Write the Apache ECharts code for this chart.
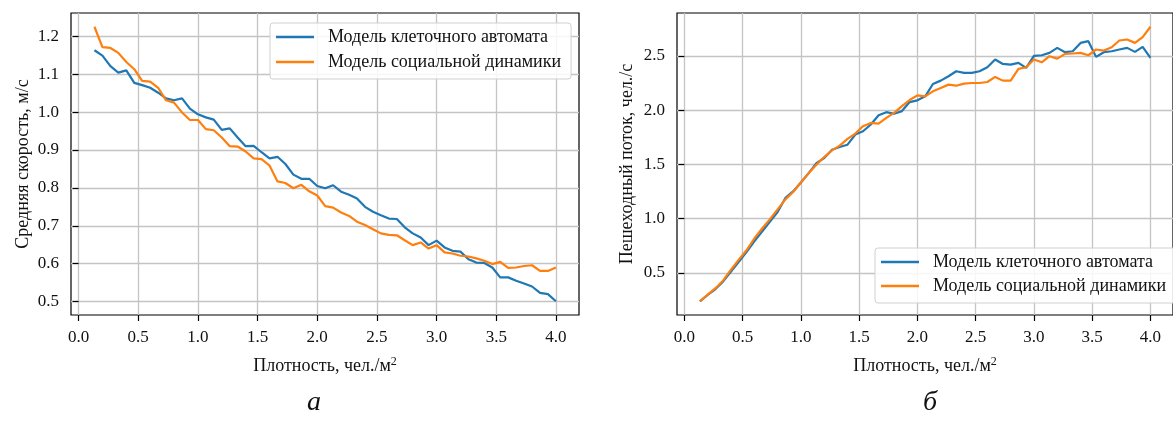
<!DOCTYPE html>
<html>
<head>
<meta charset="utf-8">
<script src="https://cdn.jsdelivr.net/npm/echarts@6/dist/echarts.min.js"></script>
<style>
html,body{margin:0;padding:0;background:#fff;}
#chart{width:1173px;height:423px;}
</style>
</head>
<body>
<div id="chart"></div>
<script>
// Density values (x axis), чел./м²
const density = [0.133,0.200,0.267,0.333,0.400,0.467,0.533,0.600,0.667,0.733,
  0.800,0.867,0.933,1.000,1.067,1.133,1.200,1.267,1.333,1.400,
  1.467,1.533,1.600,1.667,1.733,1.800,1.867,1.933,2.000,2.067,
  2.133,2.200,2.267,2.333,2.400,2.467,2.533,2.600,2.667,2.733,
  2.800,2.867,2.933,3.000,3.067,3.133,3.200,3.267,3.333,3.400,
  3.467,3.533,3.600,3.667,3.733,3.800,3.867,3.933,4.000];

// (a) mean speed, m/s
const speedCA = [1.163,1.149,1.121,1.104,1.110,1.077,1.071,1.064,1.051,1.036,
  1.031,1.036,1.009,0.994,0.986,0.980,0.953,0.957,0.933,0.910,
  0.911,0.894,0.878,0.882,0.863,0.835,0.824,0.824,0.805,0.799,
  0.807,0.790,0.782,0.772,0.750,0.737,0.728,0.719,0.718,0.696,
  0.680,0.669,0.649,0.661,0.643,0.634,0.632,0.612,0.603,0.602,
  0.590,0.564,0.564,0.555,0.548,0.540,0.523,0.520,0.501];
const speedSD = [1.225,1.171,1.169,1.156,1.132,1.113,1.082,1.080,1.064,1.031,
  1.025,0.999,0.979,0.979,0.955,0.952,0.933,0.910,0.909,0.896,
  0.878,0.876,0.859,0.817,0.813,0.799,0.808,0.791,0.780,0.752,
  0.748,0.735,0.726,0.711,0.702,0.691,0.680,0.676,0.675,0.662,
  0.649,0.656,0.640,0.649,0.630,0.627,0.621,0.619,0.614,0.608,
  0.599,0.605,0.589,0.590,0.594,0.596,0.581,0.581,0.590];

// (б) pedestrian flow, чел./с
const flowCA = [0.237,0.295,0.350,0.420,0.510,0.600,0.690,0.790,0.880,0.970,
  1.060,1.190,1.250,1.332,1.419,1.511,1.558,1.635,1.660,1.681,
  1.774,1.805,1.867,1.953,1.981,1.966,1.991,2.074,2.090,2.127,
  2.241,2.272,2.312,2.358,2.343,2.343,2.358,2.395,2.466,2.426,
  2.420,2.435,2.389,2.500,2.506,2.528,2.574,2.534,2.543,2.620,
  2.636,2.491,2.534,2.543,2.559,2.574,2.537,2.583,2.481];
const flowSD = [0.237,0.299,0.358,0.429,0.528,0.621,0.707,0.816,0.908,0.992,
  1.085,1.177,1.245,1.332,1.419,1.496,1.567,1.629,1.672,1.734,
  1.784,1.852,1.882,1.876,1.929,1.975,2.037,2.093,2.136,2.127,
  2.173,2.204,2.235,2.225,2.244,2.250,2.250,2.259,2.306,2.272,
  2.272,2.380,2.395,2.466,2.441,2.497,2.475,2.519,2.522,2.528,
  2.506,2.559,2.549,2.580,2.642,2.651,2.620,2.673,2.769];

const xTicks = [0,0.5,1.0,1.5,2.0,2.5,3.0,3.5,4.0];
const yTicksA = [0.5,0.6,0.7,0.8,0.9,1.0,1.1,1.2];
const yTicksB = [0.5,1.0,1.5,2.0,2.5];

const nameCA = 'Модель клеточного автомата';
const nameSD = 'Модель социальной динамики';
const yNameA = 'Средняя скорость, м/с';
const yNameB = 'Пешеходный поток, чел./с';
const captionA = 'а';
const captionB = 'б';

const FONT = 'Liberation Serif';
const BLUE = '#1f77b4', ORANGE = '#ff7f0e';
const TICK_FS = 17, NAME_FS = 18, LEG_FS = 18;

function pairs(xs, ys){ return xs.map((x,i)=>[x, ys[i]]); }

function xAxisCfg(idx){
  return {
    type:'value', gridIndex:idx, min:-0.0634, max:4.1934,
    name:'{a|Плотность, чел./м}{s|2}', nameLocation:'middle', nameGap:41,
    nameTextStyle:{ rich:{ a:{fontFamily:FONT,fontSize:NAME_FS,color:'#111',verticalAlign:'bottom',lineHeight:19},
                           s:{fontFamily:FONT,fontSize:12,color:'#111',verticalAlign:'top',lineHeight:12} } },
    axisLine:{show:false},
    axisTick:{show:true, inside:false, length:6, customValues:xTicks, lineStyle:{color:'#000',width:1.2}},
    axisLabel:{customValues:xTicks, formatter:v=>v.toFixed(1), fontFamily:FONT, fontSize:TICK_FS, color:'#111', margin:14},
    splitLine:{show:true, lineStyle:{color:'#c4c4c4', width:1.3}}
  };
}
function yAxisCfg(idx, min, max, ticks, name, gap){
  return {
    type:'value', gridIndex:idx, min:min, max:max,
    name:name, nameLocation:'middle', nameGap:gap, nameRotate:90,
    nameTextStyle:{fontFamily:FONT, fontSize:NAME_FS, color:'#111'},
    axisLine:{show:false},
    axisTick:{show:true, inside:false, length:6, customValues:ticks, lineStyle:{color:'#000',width:1.2}},
    axisLabel:{customValues:ticks, formatter:v=>v.toFixed(1), fontFamily:FONT, fontSize:TICK_FS, color:'#111', margin:12},
    splitLine:{show:true, lineStyle:{color:'#c4c4c4', width:1.3}}
  };
}
function legendCfg(left, top, gap){
  return {
    orient:'vertical', left:left, top:top,
    data:[nameCA, nameSD],
    icon:'rect', itemWidth:38, itemHeight:2.5, itemGap:gap,
    padding:[5,10,8,6],
    backgroundColor:'rgba(255,255,255,0.85)', borderColor:'#d0d0d0', borderWidth:1, borderRadius:3,
    textStyle:{fontFamily:FONT, fontSize:LEG_FS, color:'#111', lineHeight:18, padding:[0,0,0,9]},
    selectedMode:false
  };
}
function lineSeries(name, data, color, xi, yi){
  return { type:'line', name:name, data:data, xAxisIndex:xi, yAxisIndex:yi,
    showSymbol:false, symbol:'none', smooth:false, animation:false,
    lineStyle:{color:color, width:2.2}, itemStyle:{color:color}, z:3 };
}

const chart = echarts.init(document.getElementById('chart'), null, {renderer:'canvas'});
chart.setOption({
  animation:false,
  backgroundColor:'#fff',
  grid:[
    {left:71, top:13, width:508, height:302, show:true, borderColor:'#000', borderWidth:1.2, backgroundColor:'transparent', containLabel:false},
    {left:677, top:13, width:508, height:302, show:true, borderColor:'#000', borderWidth:1.2, backgroundColor:'transparent', containLabel:false}
  ],
  xAxis:[ xAxisCfg(0), xAxisCfg(1) ],
  yAxis:[
    yAxisCfg(0, 0.4648, 1.2612, yTicksA, yNameA, 39),
    yAxisCfg(1, 0.1104, 2.8956, yTicksB, yNameB, 41)
  ],
  legend:[ legendCfg(270, 23, 7), legendCfg(875, 248, 6) ],
  series:[
    lineSeries(nameCA, pairs(density, speedCA), BLUE, 0, 0),
    lineSeries(nameSD, pairs(density, speedSD), ORANGE, 0, 0),
    lineSeries(nameCA, pairs(density, flowCA), BLUE, 1, 1),
    lineSeries(nameSD, pairs(density, flowSD), ORANGE, 1, 1)
  ],
  graphic:[
    {type:'text', style:{x:314, y:403, text:captionA, font:'italic 28px "Liberation Serif"', fill:'#111', textAlign:'center', textVerticalAlign:'middle'}},
    {type:'text', style:{x:930, y:403, text:captionB, font:'italic 28px "Liberation Serif"', fill:'#111', textAlign:'center', textVerticalAlign:'middle'}}
  ]
});
</script>
</body>
</html>
